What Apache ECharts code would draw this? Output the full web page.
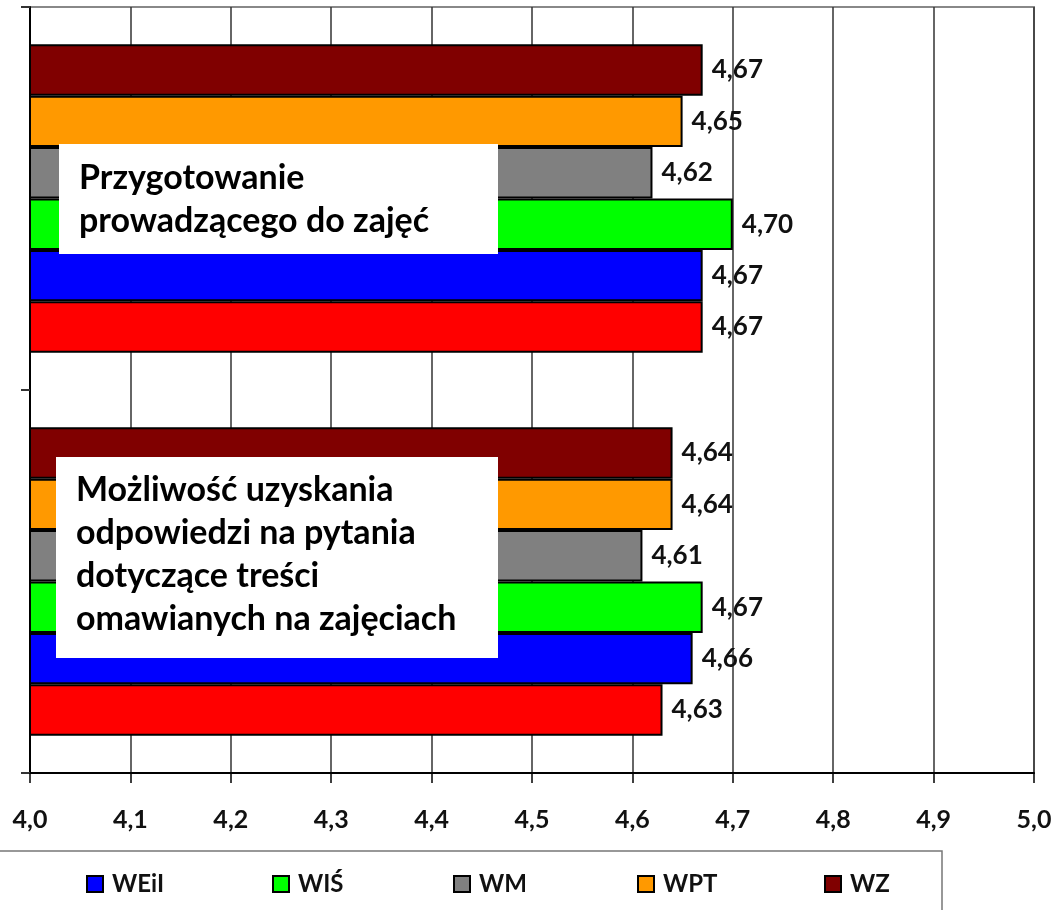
<!DOCTYPE html>
<html>
<head>
<meta charset="utf-8">
<script src="https://cdn.jsdelivr.net/npm/echarts@6/dist/echarts.min.js"></script>
<style>
  html, body { margin: 0; padding: 0; background: #fff; }
  #chart { width: 1058px; height: 910px; }
</style>
</head>
<body>
<div id="chart"></div>
<script>
// kategorie (od dołu do góry)
const categories = [
    'Możliwość uzyskania\nodpowiedzi na pytania\ndotyczące treści\nomawianych na zajęciach',
    'Przygotowanie\nprowadzącego do zajęć'
];
const seriesNames = ['WBiA', 'WEiI', 'WIŚ', 'WM', 'WPT', 'WZ'];
const seriesColors = ['#ff0000', '#0000ff', '#00ff00', '#808080', '#ff9900', '#800000'];
// wartości: [Możliwość..., Przygotowanie...]
const valWBiA = [4.63, 4.67];
const valWEiI = [4.66, 4.67];
const valWIS  = [4.67, 4.70];
const valWM   = [4.61, 4.62];
const valWPT  = [4.64, 4.65];
const valWZ   = [4.64, 4.67];
const values = [valWBiA, valWEiI, valWIS, valWM, valWPT, valWZ];
const tickLabels = ['4,0', '4,1', '4,2', '4,3', '4,4', '4,5', '4,6', '4,7', '4,8', '4,9', '5,0'];

const FONT = 'Lato';
const chart = echarts.init(document.getElementById('chart'));

// pierwsza seria rysowana u góry, więc odwracamy kolejność (WBiA na dole)
const series = seriesNames.map(function (name, i) {
    return {
        name: name,
        type: 'bar',
        data: values[i],
        barGap: '0%',
        barCategoryGap: '19.5%',
        itemStyle: { color: seriesColors[i], borderColor: '#000', borderWidth: 2 },
        label: {
            show: true,
            position: 'right',
            distance: 9,
            fontFamily: FONT,
            fontSize: 26,
            fontWeight: 'bold',
            color: '#111',
            formatter: function (p) { return p.value.toFixed(2).replace('.', ','); }
        }
    };
}).reverse();

// legenda: osobny komponent na każdy wpis (stałe odstępy)
const legendLeft = [86, 272, 453, 637, 824];
const legends = seriesNames.slice(1).map(function (name, i) {
    return {
        data: [name],
        left: legendLeft[i],
        top: 872,
        padding: 0,
        icon: 'rect',
        itemWidth: 16,
        itemHeight: 16,
        selectedMode: false,
        textStyle: { fontFamily: FONT, fontSize: 24, fontWeight: 'bold', color: '#111', padding: [0, 0, 0, 4] }
    };
});

function textBox(x, y, w, h, text, ty) {
    return {
        type: 'group',
        z: 100,
        children: [
            { type: 'rect', z: 100, shape: { x: x, y: y, width: w, height: h }, style: { fill: '#fff' } },
            {
                type: 'text', z: 101, x: x + 20, y: ty,
                style: { text: text, fontFamily: FONT, fontSize: 34, fontWeight: 'bold', fill: '#000', lineHeight: 43, verticalAlign: 'top' }
            }
        ]
    };
}

const option = {
    animation: false,
    backgroundColor: '#fff',
    grid: { left: 30, right: 24, top: 7, bottom: 137, show: true, borderColor: '#888', borderWidth: 2 },
    legend: legends,
    xAxis: {
        type: 'value',
        min: 4,
        max: 5,
        interval: 0.1,
        axisLine: { show: true, lineStyle: { color: '#000', width: 2 } },
        axisTick: { show: true, length: 10, lineStyle: { color: '#000', width: 1.5 } },
        splitLine: { show: true, lineStyle: { color: '#333', width: 1.5 } },
        axisLabel: {
            margin: 34,
            fontFamily: FONT, fontSize: 25, fontWeight: 'bold', color: '#111',
            formatter: function (v) { return tickLabels[Math.round((v - 4) * 10)]; }
        }
    },
    yAxis: {
        type: 'category',
        data: categories,
        axisLine: { show: true, lineStyle: { color: '#000', width: 2 } },
        axisTick: { show: true, length: 9, lineStyle: { color: '#333', width: 2 } },
        axisLabel: { show: false }
    },
    graphic: [
        textBox(59, 144, 439, 110, categories[1], 157),
        textBox(56, 457, 442, 201, categories[0], 469),
        {
            type: 'rect', z: 100,
            shape: { x: -10, y: 851, width: 952, height: 80 },
            style: { fill: 'none', stroke: '#777', lineWidth: 1.5 }
        }
    ],
    series: series
};

chart.setOption(option);
</script>
</body>
</html>
